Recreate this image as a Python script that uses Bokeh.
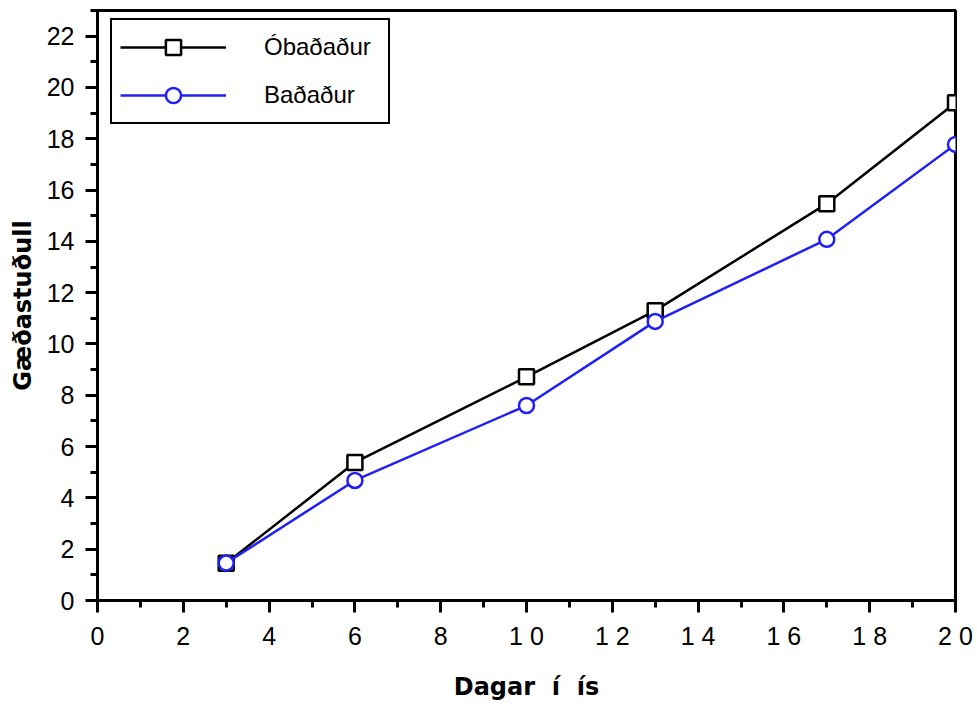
from bokeh.plotting import figure
from bokeh.models import Legend, LegendItem, SingleIntervalTicker, Range1d
from bokeh.embed import file_html
from bokeh.resources import INLINE

# data
days = [3, 6, 10, 13, 17, 20]
obadadur = [1.45, 5.38, 8.72, 11.3, 15.47, 19.4]
badadur = [1.46, 4.68, 7.6, 10.88, 14.08, 17.78]
x_tick_values = [0, 2, 4, 6, 8, 10, 12, 14, 16, 18, 20]
x_tick_labels = ["0", "2", "4", "6", "8", "1 0", "1 2", "1 4", "1 6", "1 8", "2 0"]
series_names = ["Óbaðaður", "Baðaður"]
x_label = "Dagar\u00a0\u00a0í\u00a0\u00a0ís"
y_label = "Gæðastuðull"

BLUE = "#1f1ff5"
TICK_FONT = "Liberation Sans"
LABEL_FONT = "DejaVu Sans"

p = figure(width=977, height=704, output_backend="svg", toolbar_location=None,
           x_range=Range1d(0, 20), y_range=Range1d(0, 23),
           min_border_left=97, min_border_right=22, min_border_top=10, min_border_bottom=104)
p.background_fill_color = "white"
p.border_fill_color = "white"
p.outline_line_color = "black"
p.outline_line_width = 3
p.xgrid.visible = False
p.ygrid.visible = False

p.xaxis.ticker = SingleIntervalTicker(interval=2, num_minor_ticks=2)
p.yaxis.ticker = SingleIntervalTicker(interval=2, num_minor_ticks=2)
p.xaxis.major_label_overrides = {v: s for v, s in zip(x_tick_values, x_tick_labels)}

for ax in (p.xaxis[0], p.yaxis[0]):
    ax.axis_line_width = 3
    ax.major_tick_line_width = 3
    ax.minor_tick_line_width = 3
    ax.major_tick_in = 0
    ax.minor_tick_in = 0
    ax.major_tick_out = 12
    ax.minor_tick_out = 7
    ax.major_label_text_font = TICK_FONT
    ax.major_label_text_font_size = "25px"
    ax.major_label_text_color = "black"
    ax.axis_label_text_font = LABEL_FONT
    ax.axis_label_text_font_style = "bold"
    ax.axis_label_text_font_size = "24px"
    ax.axis_label_text_color = "black"

p.xaxis.axis_label = x_label
p.yaxis.axis_label = y_label
p.xaxis.major_label_standoff = 9
p.yaxis.major_label_standoff = 11
p.xaxis.axis_label_standoff = 20
p.yaxis.axis_label_standoff = 7

l1 = p.line(days, obadadur, line_color="black", line_width=2.5)
m1 = p.scatter(days, obadadur, marker="square", size=15, line_color="black",
               fill_color="white", line_width=2.5)
l2 = p.line(days, badadur, line_color=BLUE, line_width=2.5)
m2 = p.scatter(days, badadur, marker="circle", size=15, line_color=BLUE,
               fill_color="white", line_width=2.5)

legend = Legend(items=[LegendItem(label=series_names[0], renderers=[l1, m1]),
                       LegendItem(label=series_names[1], renderers=[l2, m2])],
                location=(13, 476))
legend.border_line_color = "black"
legend.border_line_alpha = 1
legend.border_line_width = 2.5
legend.background_fill_alpha = 1
legend.padding = 8
legend.spacing = 10
legend.glyph_width = 106
legend.glyph_height = 38
legend.label_standoff = 38
legend.label_width = 116
legend.label_text_font = TICK_FONT
legend.label_text_font_size = "24px"
legend.label_text_color = "black"
legend.margin = 0
p.add_layout(legend, "center")

open("out.html", "w").write(file_html(p, INLINE))
